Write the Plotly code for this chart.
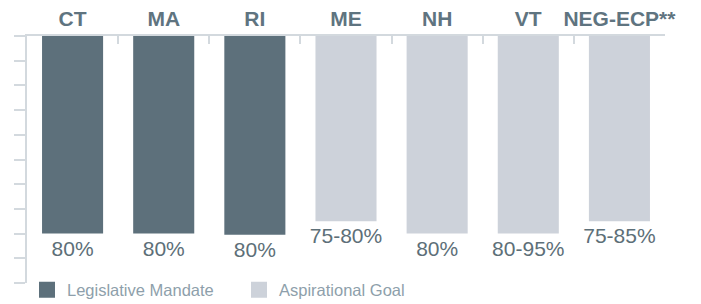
import plotly.graph_objects as go

states = ["CT", "MA", "RI", "ME", "NH", "VT", "NEG-ECP**"]
values = [80, 80, 80.5, 75, 80, 80, 75]
labels = ["80%", "80%", "80%", "75-80%", "80%", "80-95%", "75-85%"]
groups = ["Legislative Mandate", "Legislative Mandate", "Legislative Mandate",
          "Aspirational Goal", "Aspirational Goal", "Aspirational Goal", "Aspirational Goal"]
group_names = ["Legislative Mandate", "Aspirational Goal"]
group_colors = {"Legislative Mandate": "#5d707b", "Aspirational Goal": "#cdd2da"}
y_ticks = [0, 10, 20, 30, 40, 50, 60, 70, 80, 90, 100]

FONT = "Liberation Sans, Arial, Helvetica, sans-serif"
AXIS_COLOR = "#d3d9de"

fig = go.Figure()
fig.add_trace(go.Bar(
    x=states, y=values,
    marker=dict(color=[group_colors[g] for g in groups], line=dict(width=0)),
    text=labels, textposition="outside", cliponaxis=False, constraintext="none",
    textfont=dict(family=FONT, size=21, color="#5d6f78"),
    showlegend=False, hoverinfo="skip",
))
for g in group_names:
    fig.add_trace(go.Scatter(
        x=[None], y=[None], mode="markers", name=g,
        marker=dict(symbol="square", size=16, color=group_colors[g]),
    ))

fig.update_layout(
    width=701, height=304,
    margin=dict(l=27, r=36, t=36, b=21, autoexpand=False),
    paper_bgcolor="white", plot_bgcolor="white",
    bargap=0.33,
    showlegend=True,
    legend=dict(orientation="h", x=0.0, xanchor="left", y=-0.028, yanchor="middle",
                font=dict(family=FONT, size=16.5, color="#8e9fab"),
                entrywidth=167, entrywidthmode="pixels",
                itemclick=False, itemdoubleclick=False,
                bgcolor="rgba(0,0,0,0)"),
    font=dict(family=FONT),
)
fig.update_xaxes(
    side="top", type="category",
    showline=True, linecolor=AXIS_COLOR, linewidth=1.5,
    ticks="inside", ticklen=8, tickcolor=AXIS_COLOR, tickwidth=1.5,
    tickson="boundaries", tickangle=0, automargin=False,
    tickfont=dict(family=FONT, size=21, color="#5f7480", weight="bold"),
    showgrid=False, zeroline=False,
)
fig.update_yaxes(
    range=[100, 0], automargin=False,
    showline=True, linecolor=AXIS_COLOR, linewidth=1.5,
    ticks="outside", ticklen=11, tickcolor=AXIS_COLOR, tickwidth=1.5,
    tickvals=y_ticks, showticklabels=False,
    showgrid=False, zeroline=False,
)

fig.write_html("out.html",
               config={"displayModeBar": False},
               post_script="document.body.style.margin='0';document.body.style.overflow='hidden';")
